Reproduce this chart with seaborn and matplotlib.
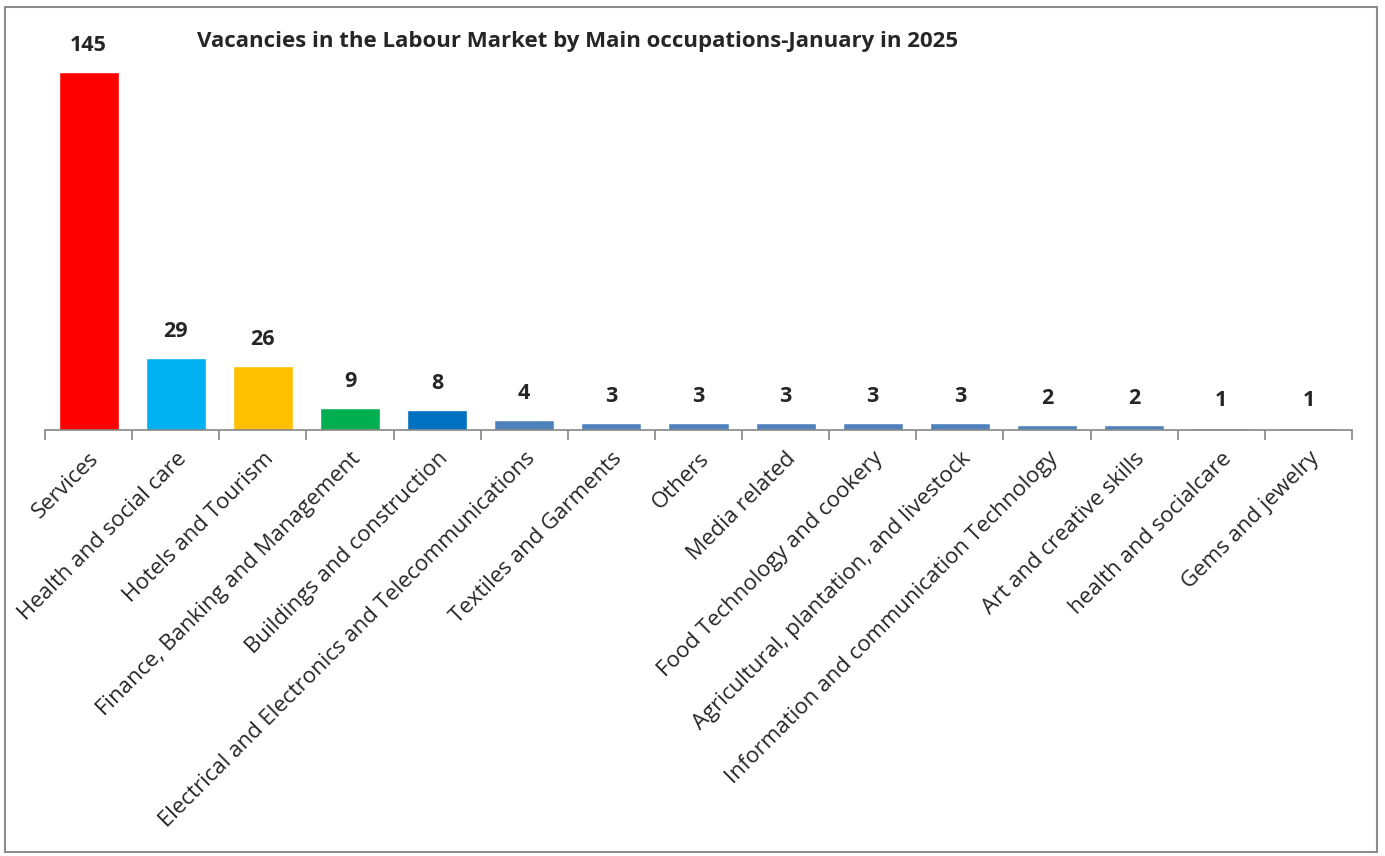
import numpy as np
import pandas as pd
import matplotlib.pyplot as plt
import seaborn as sns
from matplotlib.patches import Rectangle

occupations = [
    'Services', 'Health and social care', 'Hotels and Tourism',
    'Finance, Banking and Management', 'Buildings and construction',
    'Electrical and Electronics and Telecommunications', 'Textiles and Garments',
    'Others', 'Media related', 'Food Technology and cookery',
    'Agricultural, plantation, and livestock',
    'Information and communication Technology', 'Art and creative skills',
    'health and socialcare', 'Gems and jewelry',
]
vacancies = [145, 29, 26, 9, 8, 4, 3, 3, 3, 3, 3, 2, 2, 1, 1]
bar_colors = ['#FF0000', '#00B0F0', '#FFC000', '#00B050', '#0070C0'] + ['#4F81BD'] * 10

title = 'Vacancies in the Labour Market by Main occupations-January in 2025'

df = pd.DataFrame({'occupation': occupations, 'vacancies': vacancies})

sns.set_style('white')
plt.rcParams['font.family'] = ['Open Sans', 'DejaVu Sans']

fig = plt.figure(figsize=(13.85, 8.56), dpi=100)
ax = fig.add_axes([45 / 1385, 1 - 430 / 856, (1352 - 45) / 1385, (430 - 60) / 856])

sns.barplot(data=df, x='occupation', y='vacancies', hue='occupation',
            palette=bar_colors, legend=False, width=0.69, saturation=1, ax=ax)

# value labels above the bars
for i, v in enumerate(vacancies):
    ax.text(i, v + 6.5, str(v), ha='center', va='bottom', fontsize=15.5, fontweight='bold')

ax.set_xlim(-0.5, len(occupations) - 0.5)
ax.set_ylim(0, 150)
ax.set_xlabel('')
ax.set_ylabel('')
ax.set_yticks([])
for s in ['left', 'right', 'top']:
    ax.spines[s].set_visible(False)
ax.spines['bottom'].set_color('#868686')
ax.spines['bottom'].set_linewidth(1.2)

ax.set_xticks(np.arange(len(occupations)))
ax.set_xticklabels(occupations, rotation=45, ha='right', rotation_mode='anchor', fontsize=16)
ax.tick_params(axis='x', which='major', length=0, pad=13)
# tick marks sit between categories
ax.set_xticks(np.arange(-0.5, len(occupations)), minor=True)
ax.tick_params(axis='x', which='minor', length=7, color='#868686', width=1.2, direction='out')
ax.xaxis.set_ticks_position('bottom')
ax.tick_params(axis='x', which='minor', bottom=True)

fig.text(578 / 1385, 1 - 42 / 856, title, ha='center', va='center', fontsize=16, fontweight='bold')

fig.patches.append(Rectangle((5 / 1385, 1 - 852 / 856), 1372 / 1385, 845 / 856,
                             transform=fig.transFigure, fill=False, edgecolor='#8c8c8c', linewidth=1.5))

fig.savefig('out.png', dpi=100)
